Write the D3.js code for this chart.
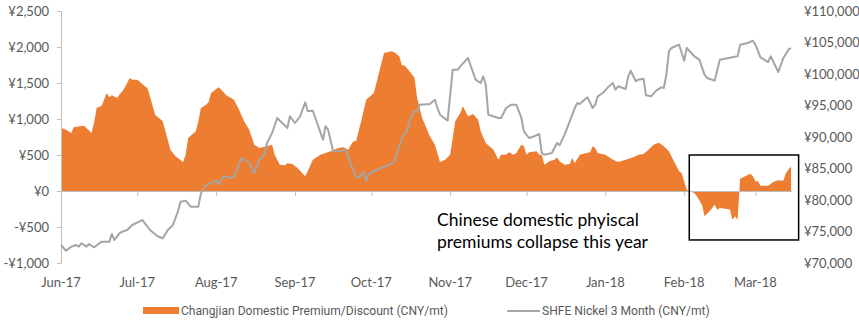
<!DOCTYPE html>
<html>
<head>
<meta charset="utf-8">
<script src="https://cdn.jsdelivr.net/npm/d3@7"></script>
<style>
  html, body { margin: 0; padding: 0; background: #fff; }
  svg { display: block; }
</style>
</head>
<body>
<svg id="chart" width="859" height="321"></svg>
<script>
// ---------- DATA ----------
const premiumDates = ["2017-06-01","2017-06-03","2017-06-05","2017-06-06","2017-06-10","2017-06-11","2017-06-13","2017-06-14","2017-06-15","2017-06-17","2017-06-19","2017-06-20","2017-06-21","2017-06-23","2017-06-26","2017-06-28","2017-06-29","2017-07-01","2017-07-04","2017-07-05","2017-07-08","2017-07-11","2017-07-14","2017-07-16","2017-07-19","2017-07-20","2017-07-21","2017-07-24","2017-07-25","2017-07-26","2017-07-28","2017-07-29","2017-07-30","2017-08-02","2017-08-03","2017-08-05","2017-08-08","2017-08-10","2017-08-12","2017-08-14","2017-08-16","2017-08-18","2017-08-21","2017-08-23","2017-08-24","2017-08-26","2017-08-28","2017-08-29","2017-08-31","2017-09-02","2017-09-05","2017-09-06","2017-09-08","2017-09-11","2017-09-13","2017-09-15","2017-09-18","2017-09-20","2017-09-22","2017-09-23","2017-09-24","2017-09-25","2017-09-27","2017-09-29","2017-10-02","2017-10-04","2017-10-06","2017-10-09","2017-10-10","2017-10-12","2017-10-13","2017-10-14","2017-10-16","2017-10-18","2017-10-19","2017-10-21","2017-10-24","2017-10-26","2017-10-28","2017-10-30","2017-11-01","2017-11-03","2017-11-05","2017-11-06","2017-11-08","2017-11-10","2017-11-12","2017-11-13","2017-11-15","2017-11-18","2017-11-20","2017-11-21","2017-11-23","2017-11-24","2017-11-26","2017-11-27","2017-11-29","2017-11-30","2017-12-01","2017-12-02","2017-12-05","2017-12-06","2017-12-07","2017-12-08","2017-12-10","2017-12-12","2017-12-13","2017-12-14","2017-12-16","2017-12-18","2017-12-19","2017-12-20","2017-12-22","2017-12-24","2017-12-26","2017-12-27","2017-12-28","2017-12-29","2018-01-01","2018-01-04","2018-01-06","2018-01-09","2018-01-12","2018-01-14","2018-01-16","2018-01-18","2018-01-20","2018-01-22","2018-01-24","2018-01-26","2018-01-28","2018-01-30","2018-01-31","2018-02-02","2018-02-03","2018-02-05","2018-02-06","2018-02-08","2018-02-09","2018-02-11","2018-02-13","2018-02-14","2018-02-15","2018-02-18","2018-02-19","2018-02-20","2018-02-21","2018-02-22","2018-02-23","2018-02-25","2018-02-27","2018-02-28","2018-03-01","2018-03-02","2018-03-03","2018-03-06","2018-03-08","2018-03-10","2018-03-12","2018-03-13","2018-03-15"];
const premiumValues = [875,851,805,885,907,875,805,944,1153,1185,1361,1301,1329,1292,1431,1569,1546,1546,1454,1431,1060,968,574,482,403,505,736,829,968,1153,1199,1232,1361,1440,1407,1329,1268,1129,968,851,643,597,620,643,505,366,356,384,375,319,204,273,435,505,528,551,597,606,574,643,690,690,968,1268,1361,1639,1917,1940,1926,1870,1745,1745,1662,1569,1292,1014,759,643,403,435,505,968,1083,1176,1037,1069,990,829,667,574,435,505,505,537,505,528,643,620,505,537,551,505,505,366,412,435,468,412,366,375,458,389,505,523,537,620,597,528,505,435,403,435,468,505,514,574,643,671,620,551,412,273,250,18,0,-28,-74,-190,-351,-282,-190,-259,-236,-250,-259,-398,-351,-398,171,204,241,204,134,134,74,74,125,148,143,250,343];

const nickelDates = ["2017-06-01","2017-06-03","2017-06-05","2017-06-07","2017-06-08","2017-06-09","2017-06-11","2017-06-12","2017-06-14","2017-06-17","2017-06-20","2017-06-21","2017-06-22","2017-06-24","2017-06-25","2017-06-27","2017-06-29","2017-07-03","2017-07-06","2017-07-09","2017-07-11","2017-07-13","2017-07-15","2017-07-17","2017-07-18","2017-07-20","2017-07-22","2017-07-25","2017-07-26","2017-07-28","2017-07-30","2017-08-01","2017-08-02","2017-08-04","2017-08-06","2017-08-08","2017-08-11","2017-08-14","2017-08-16","2017-08-18","2017-08-20","2017-08-21","2017-08-23","2017-08-25","2017-08-27","2017-08-29","2017-08-30","2017-09-01","2017-09-03","2017-09-05","2017-09-06","2017-09-08","2017-09-09","2017-09-12","2017-09-13","2017-09-14","2017-09-16","2017-09-18","2017-09-21","2017-09-23","2017-09-24","2017-09-25","2017-09-26","2017-09-28","2017-09-29","2017-09-30","2017-10-04","2017-10-10","2017-10-11","2017-10-13","2017-10-15","2017-10-16","2017-10-18","2017-10-19","2017-10-20","2017-10-24","2017-10-26","2017-10-27","2017-10-28","2017-10-31","2017-11-02","2017-11-04","2017-11-05","2017-11-08","2017-11-11","2017-11-13","2017-11-14","2017-11-15","2017-11-16","2017-11-20","2017-11-21","2017-11-23","2017-11-25","2017-11-27","2017-11-29","2017-11-30","2017-12-02","2017-12-04","2017-12-06","2017-12-07","2017-12-08","2017-12-11","2017-12-13","2017-12-14","2017-12-16","2017-12-18","2017-12-20","2017-12-21","2017-12-22","2017-12-23","2017-12-25","2017-12-27","2017-12-28","2017-12-29","2017-12-31","2018-01-02","2018-01-04","2018-01-05","2018-01-06","2018-01-09","2018-01-10","2018-01-11","2018-01-13","2018-01-14","2018-01-16","2018-01-17","2018-01-19","2018-01-21","2018-01-23","2018-01-24","2018-01-25","2018-01-26","2018-01-27","2018-01-30","2018-02-01","2018-02-02","2018-02-05","2018-02-07","2018-02-09","2018-02-10","2018-02-13","2018-02-15","2018-02-22","2018-02-23","2018-02-26","2018-02-28","2018-03-01","2018-03-03","2018-03-06","2018-03-07","2018-03-10","2018-03-12","2018-03-14","2018-03-15"];
const nickelValues = [72860,71950,72590,72860,72590,73130,72590,73020,72490,73390,73390,74600,73650,74710,74970,75240,76030,76820,75240,74240,73920,75240,76030,78210,79730,79900,78940,78940,81060,82380,82700,83130,82540,83860,83490,83600,86670,85870,84290,86400,87190,89050,90640,93020,92220,91430,93280,92220,93280,95500,94080,94180,93020,89570,91700,91160,87730,87730,87990,85600,84600,83760,83490,84440,83070,84180,84920,85980,87190,89800,91000,92490,94080,94080,95130,95240,95920,94600,93540,92600,100680,100680,101220,102540,99100,98570,99630,98300,93540,93020,93020,94600,95130,95130,93020,90900,89840,90110,90480,87460,87190,87460,89050,88680,90370,92490,94600,95400,95240,95660,96300,94600,95130,96460,96980,97880,98570,97510,98050,97620,99630,100520,98840,99100,99260,96620,96460,97350,97880,97780,99890,103600,104130,104650,102110,104130,102810,102270,99890,99370,98940,102270,102810,104650,104920,105290,104650,102650,101900,102810,100320,102540,103860,104130];

const monthTicks = ["2017-06-01","2017-07-01","2017-08-01","2017-09-01","2017-10-01","2017-11-01","2017-12-01","2018-01-01","2018-02-01","2018-03-01"];
const leftTicks = [-1000,-500,0,500,1000,1500,2000,2500];
const rightTicks = [70000,75000,80000,85000,90000,95000,100000,105000,110000];
const seriesNames = ["Changjian Domestic Premium/Discount (CNY/mt)","SHFE Nickel 3 Month (CNY/mt)"];
const annotationLines = ["Chinese domestic phyiscal","premiums collapse this year"];
const annotationBoxDates = ["2018-02-03","2018-03-18"];
const annotationBoxValues = [500, -680];

// ---------- DRAWING ----------
const parse = d3.timeParse("%Y-%m-%d");
const premium = premiumDates.map((d,i)=>({date: parse(d), v: premiumValues[i]}));
const nickel = nickelDates.map((d,i)=>({date: parse(d), v: nickelValues[i]}));

const svg = d3.select("#chart");
const plot = {left: 61, right: 791, top: 11, bottom: 263};

const x = d3.scaleTime().domain([parse("2017-06-01"), parse("2018-03-15")]).range([plot.left, plot.right]);
const yL = d3.scaleLinear().domain([-1000, 2500]).range([plot.bottom, plot.top]);
const yR = d3.scaleLinear().domain([70000, 110000]).range([plot.bottom, plot.top]);

const orange = "#ED7D31", grey = "#A5A5A5", axisCol = "#BFBFBF", textCol = "#595959";
const axisFont = "Lato, 'Open Sans', sans-serif";

// area
svg.append("path")
  .datum(premium)
  .attr("fill", orange)
  .attr("d", d3.area().x(d=>x(d.date)).y0(yL(0)).y1(d=>yL(d.v)));

// zero axis line with month ticks
const xAxis = d3.axisBottom(x).tickValues(monthTicks.map(parse)).tickSize(5).tickFormat("");
const gx = svg.append("g").attr("transform", `translate(0,${yL(0)})`).call(xAxis);
gx.select(".domain").attr("stroke", axisCol).attr("stroke-width", 1).attr("d", `M${plot.left},0.5H${plot.right+1}`);
gx.selectAll(".tick line").attr("stroke", axisCol);
gx.selectAll(".tick").filter((d,i)=>i===0).remove();

// month labels at bottom
svg.append("g").selectAll("text").data(monthTicks).join("text")
  .attr("x", d=>x(parse(d)))
  .attr("y", 282)
  .attr("dy", "0.35em")
  .attr("text-anchor", "middle")
  .attr("fill", textCol)
  .style("font-family", axisFont)
  .style("font-size", "13px")
  .text(d=>d3.timeFormat("%b-%y")(parse(d)));

// left axis
const fmtYen = v => (v < 0 ? "-¥" : "¥") + d3.format(",")(Math.abs(v));
const gl = svg.append("g").attr("transform", `translate(${plot.left},0)`)
  .call(d3.axisLeft(yL).tickValues(leftTicks).tickSize(4).tickPadding(8).tickFormat(fmtYen));
gl.select(".domain").attr("stroke", axisCol);
gl.selectAll(".tick line").attr("stroke", axisCol);
gl.selectAll("text").attr("fill", textCol).style("font-family", axisFont).style("font-size", "13px");

// right axis (no line)
const gr = svg.append("g").attr("transform", `translate(${plot.right+13},0)`)
  .call(d3.axisRight(yR).tickValues(rightTicks).tickSize(0).tickPadding(0).tickFormat(fmtYen));
gr.select(".domain").remove();
gr.selectAll("text").attr("fill", textCol).style("font-family", axisFont).style("font-size", "13px");

// nickel line
svg.append("path")
  .datum(nickel)
  .attr("fill", "none")
  .attr("stroke", grey)
  .attr("stroke-width", 2)
  .attr("stroke-linejoin", "round")
  .attr("d", d3.line().x(d=>x(d.date)).y(d=>yR(d.v)));

// annotation box
const bx0 = x(parse(annotationBoxDates[0])), bx1 = x(parse(annotationBoxDates[1]));
const by0 = yL(annotationBoxValues[0]), by1 = yL(annotationBoxValues[1]);
svg.append("rect")
  .attr("x", bx0).attr("y", by0)
  .attr("width", bx1 - bx0).attr("height", by1 - by0)
  .attr("fill", "none").attr("stroke", "#000").attr("stroke-width", 1.5);

// annotation text
svg.append("g").selectAll("text").data(annotationLines).join("text")
  .attr("x", 437)
  .attr("y", (d,i)=>226 + i*21.5)
  .attr("fill", "#000")
  .style("font-family", axisFont)
  .style("font-size", "17.5px")
  .text(d=>d);

// legend
const legFont = "Roboto, sans-serif";
const lg = svg.append("g");
lg.append("rect").attr("x", 143).attr("y", 307).attr("width", 36).attr("height", 7).attr("fill", orange);
lg.append("text").attr("x", 181).attr("y", 311).attr("dy", "0.35em")
  .attr("fill", textCol).style("font-family", legFont).style("font-size", "12.1px").text(seriesNames[0]);
lg.append("line").attr("x1", 507).attr("x2", 540).attr("y1", 311).attr("y2", 311)
  .attr("stroke", grey).attr("stroke-width", 2);
lg.append("text").attr("x", 542).attr("y", 311).attr("dy", "0.35em")
  .attr("fill", textCol).style("font-family", legFont).style("font-size", "12.1px").text(seriesNames[1]);
</script>
</body>
</html>
